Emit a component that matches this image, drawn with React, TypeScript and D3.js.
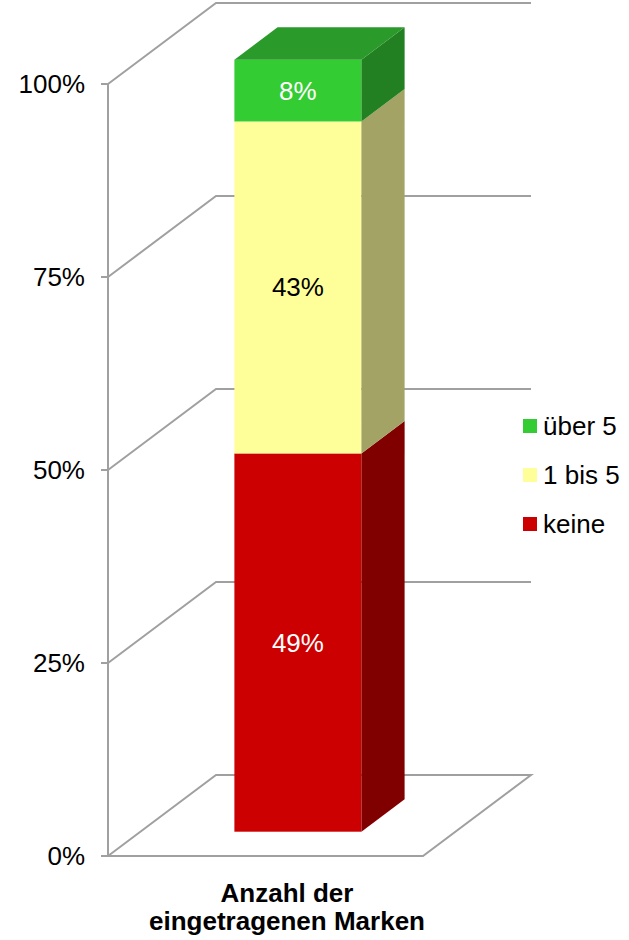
import React from "react";
import * as d3 from "d3";

const categories = ["Anzahl der eingetragenen Marken"];
const seriesNames = ["keine", "1 bis 5", "über 5"];
const seriesValues = [0.49, 0.43, 0.08];
const tickValues = [0, 0.25, 0.5, 0.75, 1];
const tickLabels = ["0%", "25%", "50%", "75%", "100%"];

const frontColors = ["#CC0000", "#FFFF99", "#33CC33"];
const sideColors = ["#800000", "#A3A366", "#228022"];
const topColors = ["#990000", "#CCCC7A", "#2A9A2A"];
const labelColors = ["#FFFFFF", "#000000", "#FFFFFF"];

const W = 629;
const H = 940;
const FONT = "'Liberation Sans', Arial, sans-serif";

// 3d projection: depth 0 = front wall, 1 = back wall
const DX = 108;
const DY = -81;
const barFront = 0.3;
const barBack = 0.7;

export default function App() {
  const y = d3.scaleLinear().domain([0, 1]).range([856, 84]);
  const x = d3
    .scaleBand()
    .domain(categories)
    .range([108, 423])
    .paddingInner(0)
    .paddingOuter(0.74);

  const px = (xv, d) => xv + d * DX;
  const py = (yv, d) => yv + d * DY;
  const pts = (arr) => arr.map((p) => p.join(",")).join(" ");

  const x0 = 108;
  const x1 = 423;
  const grid = "#A0A0A0";

  // stack
  const stacked = [];
  let acc = 0;
  seriesValues.forEach((v, i) => {
    stacked.push({ name: seriesNames[i], v0: acc, v1: acc + v, v, i });
    acc += v;
  });

  const bx0 = x(categories[0]);
  const bx1 = bx0 + x.bandwidth();

  return (
    <svg width={W} height={H} style={{ position: "absolute", left: 0, top: 0 }}>
      <rect width={W} height={H} fill="#fff" />
      {/* floor */}
      <polygon
        points={pts([
          [px(x0, 0), py(y(0), 0)],
          [px(x0, 1), py(y(0), 1)],
          [px(x1, 1), py(y(0), 1)],
          [px(x1, 0), py(y(0), 0)],
        ])}
        fill="none"
        stroke={grid}
        strokeWidth={2}
      />
      {/* gridlines on left wall and back wall */}
      {tickValues.slice(1).map((t) => (
        <polyline
          key={t}
          points={pts([
            [px(x0, 0), py(y(t), 0)],
            [px(x0, 1), py(y(t), 1)],
            [px(x1, 1), py(y(t), 1)],
          ])}
          fill="none"
          stroke={grid}
          strokeWidth={2}
        />
      ))}
      {/* axis */}
      <line x1={x0} x2={x0} y1={y(0)} y2={y(1)} stroke={grid} strokeWidth={2} />
      {tickValues.map((t, i) => (
        <g key={t}>
          <line x1={x0 - 7} x2={x0} y1={y(t)} y2={y(t)} stroke={grid} strokeWidth={2} />
          <text
            x={85}
            y={y(t) + 9}
            textAnchor="end"
            fontFamily={FONT}
            fontSize={26}
            fill="#000"
          >
            {tickLabels[i]}
          </text>
        </g>
      ))}
      {/* bar */}
      {stacked.map((s) => {
        const yf0 = py(y(s.v0), barFront);
        const yf1 = py(y(s.v1), barFront);
        const yb0 = py(y(s.v0), barBack);
        const yb1 = py(y(s.v1), barBack);
        const fx0 = px(bx0, barFront);
        const fx1 = px(bx1, barFront);
        const bkx1 = px(bx1, barBack);
        const bkx0 = px(bx0, barBack);
        return (
          <g key={s.name}>
            <rect x={fx0} y={yf1} width={fx1 - fx0} height={yf0 - yf1} fill={frontColors[s.i]} />
            <polygon
              points={pts([
                [fx1, yf0],
                [fx1, yf1],
                [bkx1, yb1],
                [bkx1, yb0],
              ])}
              fill={sideColors[s.i]}
            />
            {s.i === stacked.length - 1 && (
              <polygon
                points={pts([
                  [fx0, yf1],
                  [bkx0, yb1],
                  [bkx1, yb1],
                  [fx1, yf1],
                ])}
                fill={topColors[s.i]}
              />
            )}
            <text
              x={(fx0 + fx1) / 2}
              y={(yf0 + yf1) / 2 + 9}
              textAnchor="middle"
              fontFamily={FONT}
              fontSize={26}
              fill={labelColors[s.i]}
            >
              {Math.round(s.v * 100) + "%"}
            </text>
          </g>
        );
      })}
      {/* legend */}
      {[2, 1, 0].map((i, k) => (
        <g key={i} transform={`translate(523, ${419 + k * 49})`}>
          <rect x={0} y={0} width={14} height={14} fill={frontColors[i]} />
          <text x={20} y={16} fontFamily={FONT} fontSize={26} fill="#000">
            {seriesNames[i]}
          </text>
        </g>
      ))}
      {/* category label */}
      <text
        x={287}
        y={902}
        textAnchor="middle"
        fontFamily={FONT}
        fontSize={26}
        fontWeight="bold"
        fill="#000"
      >
        <tspan x={287}>Anzahl der</tspan>
        <tspan x={287} dy={28}>
          eingetragenen Marken
        </tspan>
      </text>
    </svg>
  );
}
